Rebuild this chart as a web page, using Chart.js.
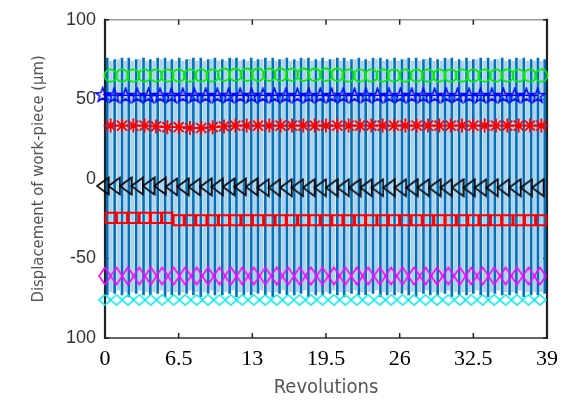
<!DOCTYPE html>
<html><head><meta charset="utf-8">
<script src="https://cdn.jsdelivr.net/npm/chart.js@4"></script>
<style>html,body{margin:0;padding:0;background:#fff}#wrap{width:566px;height:405px}</style>
</head><body><div id="wrap"><canvas id="c" width="566" height="405"></canvas></div>
<script>
// ---------- axes ----------
const xTickValues = [0, 6.5, 13, 19.5, 26, 32.5, 39];
const xTickLabels = ['0', '6.5', '13', '19.5', '26', '32.5', '39'];
const yTickValues = [-100, -50, 0, 50, 100];
const yTickLabels = ['100', '-50', '0', '50', '100'];

// ---------- oscillating displacement (dark strokes) ----------
const waveX = [0.2,0.85,1.5,2.1,2.75,3.4,4.0,4.65,5.3,5.9,
  6.55,7.2,7.8,8.45,9.1,9.7,10.35,11.0,11.6,12.25,
  12.9,13.5,14.15,14.8,15.4,16.05,16.7,17.3,17.95,18.6,
  19.2,19.85,20.5,21.1,21.75,22.4,23.0,23.65,24.3,24.9,
  25.55,26.2,26.8,27.45,28.1,28.7,29.35,30.0,30.6,31.25,
  31.9,32.5,33.15,33.8,34.4,35.05,35.7,36.3,36.95,37.6,
  38.2,38.8];
const waveTop = [76,75,76,76,75,76,75,76,76,75,
  76,75,76,76,75,76,75,76,76,75,
  76,75,76,76,75,76,75,76,76,75,
  76,75,76,76,75,76,75,76,76,75,
  76,75,76,76,75,76,75,76,76,75,
  76,75,76,76,75,76,75,76,76,75,
  76,75];
const waveBottom = [-73,-72,-73,-74,-72,-73,-73,-72,-74,-73,
  -73,-72,-73,-74,-72,-73,-73,-72,-74,-73,
  -73,-72,-73,-74,-72,-73,-73,-72,-74,-73,
  -73,-72,-73,-74,-72,-73,-73,-72,-74,-73,
  -73,-72,-73,-74,-72,-73,-73,-72,-74,-73,
  -73,-72,-73,-74,-72,-73,-73,-72,-74,-73,
  -73,-72];

// ---------- oscillating displacement (light strokes) ----------
const bandX = [0.52,1.17,1.8,2.42,3.07,3.7,4.32,4.97,5.6,6.22,
  6.87,7.5,8.12,8.77,9.4,10.02,10.67,11.3,11.92,12.57,
  13.2,13.82,14.47,15.1,15.72,16.37,17.0,17.62,18.27,18.9,
  19.52,20.17,20.8,21.42,22.07,22.7,23.32,23.97,24.6,25.22,
  25.87,26.5,27.12,27.77,28.4,29.02,29.67,30.3,30.92,31.57,
  32.2,32.82,33.47,34.1,34.72,35.37,36.0,36.62,37.27,37.9,
  38.5];
const bandTop = [74,75,74,74,75,74,74,75,74,74,
  74,75,74,74,75,74,74,75,74,74,
  74,75,74,74,75,74,74,75,74,74,
  74,75,74,74,75,74,74,75,74,74,
  74,75,74,74,75,74,74,75,74,74,
  74,75,74,74,75,74,74,75,74,74,
  74];
const bandBottom = [-71,-70,-71,-71,-70,-71,-71,-70,-71,-71,
  -71,-70,-71,-71,-70,-71,-71,-70,-71,-71,
  -71,-70,-71,-71,-70,-71,-71,-70,-71,-71,
  -71,-70,-71,-71,-70,-71,-71,-70,-71,-71,
  -71,-70,-71,-71,-70,-71,-71,-70,-71,-71,
  -71,-70,-71,-71,-70,-71,-71,-70,-71,-71,
  -71];

// ---------- marker series ----------
const ringX = [0.5,1.5,2.5,3.5,4.5,5.5,6.5,7.5,8.5,9.5,
  10.5,11.5,12.5,13.5,14.5,15.5,16.5,17.5,18.5,19.5,
  20.5,21.5,22.5,23.5,24.5,25.5,26.5,27.5,28.5,29.5,
  30.5,31.5,32.5,33.5,34.5,35.5,36.5,37.5,38.5];
const starX = [-0.2,0.81,1.82,2.83,3.84,4.85,5.86,6.87,7.88,8.89,
  9.9,10.91,11.92,12.93,13.94,14.95,15.96,16.97,17.98,18.99,
  20.0,21.01,22.02,23.03,24.04,25.05,26.06,27.07,28.08,29.09,
  30.1,31.11,32.12,33.13,34.14,35.15,36.16,37.17,38.18];
const diamondX = [0,1.01,2.02,3.03,4.04,5.05,6.06,7.07,8.08,9.09,
  10.1,11.11,12.12,13.13,14.14,15.15,16.16,17.17,18.18,19.19,
  20.2,21.21,22.22,23.23,24.24,25.25,26.26,27.27,28.28,29.29,
  30.3,31.31,32.32,33.33,34.34,35.35,36.36,37.37,38.38];

const circleY = [65,65,65,65,65,65,65,65,65,65,
  65.5,65.5,65.5,65.5,65.5,65.5,65.5,65.5,65.5,65.5,
  65.5,65,65,65,65,65,65,65,65,65,
  65,65,65,65,65,65,65,65,65];
const starY = [53,52.5,52.5,52.5,52.5,52.5,52.5,52.5,52.5,52.5,
  52.5,52.5,52.5,52.5,52.5,52.5,52.5,52.5,52.5,52.5,
  52.5,52.5,52.5,52.5,52.5,52.5,52.5,52.5,52.5,52.5,
  52.5,52.5,52.5,52.5,52.5,52.5,52.5,52.5,52.5];
const asteriskY = [33.5,33.5,33.5,33.5,33,32.5,32.5,32,32,32.5,
  33,33.5,33.5,33.5,33.5,33.5,33.5,33.5,33.5,33.5,
  33.5,33.5,33.5,33.5,33.5,33.5,33.5,33.5,33.5,33.5,
  33.5,33.5,33.5,33.5,33.5,33.5,33.5,33.5,33.5];
const triangleY = [-4.5,-4.5,-4.5,-4.5,-4.5,-4.5,-5,-5,-5,-5,
  -5,-5,-5,-5,-5.5,-5.5,-5.5,-5.5,-5.5,-5.5,
  -5.5,-5.5,-5.5,-5.5,-5.5,-5.5,-5.5,-5.5,-5.5,-5.5,
  -5.5,-5.5,-5.5,-5.5,-5.5,-5.5,-5.5,-5.5,-5.5];
const squareY = [-24.5,-24.5,-24.5,-24.5,-24.5,-24.5,-26,-26,-26,-26,
  -26,-26,-26,-26,-26,-26,-26,-26,-26,-26,
  -26,-26,-26,-26,-26,-26,-26,-26,-26,-26,
  -26,-26,-26,-26,-26,-26,-26,-26,-26];
const diamondY = [-61,-61,-61,-61,-61,-61,-61,-61,-61,-61,
  -61,-61,-61,-61,-61,-61,-61,-61,-61,-61,
  -61,-61,-61,-61,-61,-61,-61,-61,-61,-61,
  -61,-61,-61,-61,-61,-61,-61,-61,-61];
const cyanY = [-76,-76,-76,-76,-76,-76,-76,-76,-76,-76,
  -76,-76,-76,-76,-76,-76,-76,-76,-76,-76,
  -76,-76,-76,-76,-76,-76,-76,-76,-76,-76,
  -76,-76,-76,-76,-76,-76,-76,-76,-76];

// ---------- custom marker glyphs ----------
function glyph(w, h, color, pts) {
  const c = document.createElement('canvas');
  c.width = w; c.height = h;
  const g = c.getContext('2d');
  g.strokeStyle = color; g.lineWidth = 1.6; g.lineJoin = 'miter';
  g.beginPath();
  pts.forEach((p, i) => i ? g.lineTo(p[0], p[1]) : g.moveTo(p[0], p[1]));
  g.closePath(); g.stroke();
  return c;
}
const starPts = [];
for (let i = 0; i < 10; i++) {
  const r = i % 2 ? 3 : 7.5;
  const a = -Math.PI / 2 + i * Math.PI / 5;
  starPts.push([8.5 + r * Math.cos(a), 9 + r * Math.sin(a)]);
}
const starGlyph = glyph(17, 17, '#0000ff', starPts);
const tallDiamond = glyph(14, 20, '#ff00ff', [[7,1.5],[12.9,10],[7,18.5],[1.1,10]]);
const leftTri = glyph(14, 20, '#000000', [[1.2,10],[12.8,1.5],[12.8,18.5]]);
const flatDiamond = glyph(14, 12, '#00eeee', [[7,1],[13,6],[7,11],[1,6]]);

const pts = (xs, ys) => xs.map((x, i) => ({x, y: ys[i]}));
const bars = (xs, lo, hi) => xs.map((x, i) => ({x, y: [lo[i], hi[i]]}));

const frame = {
  id: 'frame',
  beforeDatasetsDraw(chart) {
    const {ctx, chartArea: a, scales: {x, y}} = chart;
    ctx.save();
    ctx.lineCap = 'butt';
    ctx.strokeStyle = '#9a9a9a'; ctx.lineWidth = 1.5;
    ctx.beginPath(); ctx.moveTo(a.left, a.top); ctx.lineTo(a.right, a.top); ctx.stroke();
    ctx.strokeStyle = '#666'; ctx.lineWidth = 1.8;
    ctx.beginPath(); ctx.moveTo(a.left, a.bottom); ctx.lineTo(a.right, a.bottom); ctx.stroke();
    ctx.strokeStyle = '#222'; ctx.lineWidth = 2.2;
    ctx.beginPath(); ctx.moveTo(a.left, a.top - 1); ctx.lineTo(a.left, a.bottom + 1); ctx.stroke();
    ctx.beginPath(); ctx.moveTo(a.right, a.top - 1); ctx.lineTo(a.right, a.bottom + 1); ctx.stroke();
    ctx.strokeStyle = '#222'; ctx.lineWidth = 1.5;
    xTickValues.forEach(v => {
      const px = x.getPixelForValue(v);
      ctx.beginPath(); ctx.moveTo(px, a.bottom); ctx.lineTo(px, a.bottom - 5); ctx.stroke();
      ctx.beginPath(); ctx.moveTo(px, a.top); ctx.lineTo(px, a.top + 5); ctx.stroke();
    });
    yTickValues.forEach(v => {
      const py = y.getPixelForValue(v);
      ctx.beginPath(); ctx.moveTo(a.left, py); ctx.lineTo(a.left + 4, py); ctx.stroke();
      ctx.beginPath(); ctx.moveTo(a.right, py); ctx.lineTo(a.right - 4, py); ctx.stroke();
    });
    ctx.restore();
  }
};

const narrow = '"Liberation Sans Narrow", "DejaVu Sans Condensed", "Arial Narrow", sans-serif';

new Chart(document.getElementById('c'), {
  data: {
    datasets: [
      {type: 'bar', data: bars(bandX, bandBottom, bandTop), backgroundColor: 'rgba(100,165,215,0.5)',
       barThickness: 3, grouped: false, order: 20},
      {type: 'bar', data: bars(waveX, waveBottom, waveTop), backgroundColor: '#0072bd',
       barThickness: 2, grouped: false, order: 19},
      {type: 'line', data: pts(ringX, circleY), showLine: false, pointStyle: 'circle', pointRadius: 6.2,
       borderColor: '#00ee00', pointBorderColor: '#00ee00', pointBackgroundColor: 'rgba(0,0,0,0)', pointBorderWidth: 1.8, clip: false, order: 1},
      {type: 'line', data: pts(starX, starY), showLine: true, borderColor: '#0000ff', borderWidth: 1.5,
       pointStyle: starGlyph, pointRadius: 7, clip: false, order: 1},
      {type: 'line', data: pts(ringX, asteriskY), showLine: true, borderColor: '#ff0000', borderWidth: 1.5,
       pointStyle: 'star', pointRadius: 7, pointBorderColor: '#ff0000', pointBorderWidth: 1.8, clip: false, order: 1},
      {type: 'line', data: pts(starX, triangleY), showLine: false, pointStyle: leftTri, pointRadius: 8, clip: false, order: 1},
      {type: 'line', data: pts(ringX, squareY), showLine: false, pointStyle: 'rect', pointRadius: 7.2,
       pointBorderColor: '#ff0000', pointBackgroundColor: 'rgba(0,0,0,0)', pointBorderWidth: 2, clip: false, order: 1},
      {type: 'line', data: pts(diamondX, diamondY), showLine: false, pointStyle: tallDiamond, pointRadius: 9, clip: false, order: 1},
      {type: 'line', data: pts(diamondX, cyanY), showLine: false, pointStyle: flatDiamond, pointRadius: 6, clip: false, order: 1}
    ]
  },
  options: {
    responsive: false, animation: false, events: [],
    layout: {padding: {top: 13, right: 16, left: 0, bottom: 0}},
    plugins: {legend: {display: false}, tooltip: {enabled: false}},
    scales: {
      x: {
        type: 'linear', min: 0, max: 39, position: 'bottom', offset: false,
        afterBuildTicks: s => { s.ticks = xTickValues.map(v => ({value: v})); },
        afterFit: s => { s.height = 67; },
        grid: {display: false, drawTicks: false, offset: false}, border: {display: false},
        ticks: {callback: (v, i) => xTickLabels[i], font: {family: '"Liberation Serif", "Times New Roman", serif', size: 22},
                color: '#000', padding: 8, maxRotation: 0, autoSkip: false},
        title: {display: true, text: 'Revolutions', color: '#555', font: {family: narrow, size: 20}, padding: {top: 0, bottom: 5}}
      },
      y: {
        type: 'linear', min: -100, max: 100,
        afterBuildTicks: s => { s.ticks = yTickValues.map(v => ({value: v})); },
        afterFit: s => { s.width = 105; },
        grid: {display: false, drawTicks: false}, border: {display: false},
        ticks: {callback: v => yTickLabels[yTickValues.indexOf(v)], font: {family: '"Liberation Sans", Arial, sans-serif', size: 18},
                color: '#333', padding: 9},
        title: {display: true, text: 'Displacement of work-piece (μm)', color: '#555', font: {family: narrow, size: 16.5}, padding: {top: 29, bottom: 0}}
      }
    }
  },
  plugins: [frame]
});
</script>
</body></html>
